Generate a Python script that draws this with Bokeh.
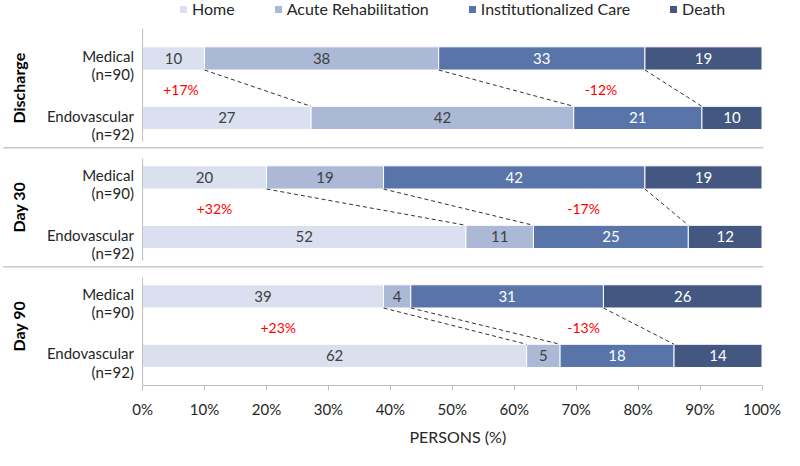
import math
from bokeh.plotting import figure
from bokeh.models import (ColumnDataSource, Legend, LegendItem, FixedTicker,
                          PrintfTickFormatter, Title, Range1d)
from bokeh.core.properties import value
from bokeh.embed import file_html
from bokeh.resources import INLINE

# ---------------- data ----------------
groups = ["Discharge", "Day 30", "Day 90"]
arms = ["Medical", "Endovascular"]
arm_n = ["(n=90)", "(n=92)"]
outcomes = ["Home", "Acute Rehabilitation", "Institutionalized Care", "Death"]

# rows: Discharge Med, Discharge Endo, Day30 Med, Day30 Endo, Day90 Med, Day90 Endo
home = [10.0, 27.2, 20.0, 52.2, 38.9, 62.0]
acute = [37.8, 42.4, 18.9, 10.9, 4.4, 5.4]
inst = [33.3, 20.7, 42.2, 25.0, 31.1, 18.4]
death = [18.9, 9.7, 18.9, 11.9, 25.6, 14.2]

home_lbl = [10, 27, 20, 52, 39, 62]
acute_lbl = [38, 42, 19, 11, 4, 5]
inst_lbl = [33, 21, 42, 25, 31, 18]
death_lbl = [19, 10, 19, 12, 26, 14]

home_change = ["+17%", "+32%", "+23%"]
inst_change = ["-12%", "-17%", "-13%"]

x_ticks = [0, 10, 20, 30, 40, 50, 60, 70, 80, 90, 100]
x_title = "PERSONS (%)"

# ---------------- layout / style ----------------
colors = ["#dae0ef", "#abb8d6", "#5874a9", "#435780"]
label_colors = ["#404040", "#404040", "#ffffff", "#ffffff"]
FONT = "Lato"
BAR_H = 0.39
ANNOT_X_HOME = [6.2, 11.6, 21.9]
ANNOT_X_INST = [74.0, 71.2, 71.2]
CAT_X = -1.4
GROUP_X = -20.1

W, H = 784, 450
p = figure(width=W, height=H, output_backend="svg", toolbar_location=None,
           x_range=Range1d(-22.94, 103.63), y_range=Range1d(5.498, -0.974),
           y_axis_location=None, min_border_left=0, min_border_right=0,
           min_border_top=0, min_border_bottom=65)
p.grid.visible = False
p.outline_line_color = None
p.background_fill_color = "white"

rows = list(range(len(home)))
series = [home, acute, inst, death]
labels = [home_lbl, acute_lbl, inst_lbl, death_lbl]

left = [0.0] * len(rows)
renderers = []
cums = []
for k, (vals, lbls) in enumerate(zip(series, labels)):
    right = [l + v for l, v in zip(left, vals)]
    src = ColumnDataSource(dict(y=rows, left=left, right=right,
                                mid=[(l + r) / 2 for l, r in zip(left, right)],
                                txt=[str(t) for t in lbls]))
    r = p.hbar(y="y", left="left", right="right", height=BAR_H, source=src,
               fill_color=colors[k], line_color="white", line_width=1)
    renderers.append(r)
    p.text(x="mid", y="y", text="txt", source=src, text_align="center",
           text_baseline="middle", text_font=value(FONT),
           text_font_size="15px", text_color=label_colors[k])
    cums.append(right)
    left = right

# dashed connectors between Medical and Endovascular boundaries
xs0, ys0, xs1, ys1 = [], [], [], []
for g in range(len(groups)):
    m, e = 2 * g, 2 * g + 1
    for k in range(3):
        xs0.append(cums[k][m]); ys0.append(m + BAR_H / 2)
        xs1.append(cums[k][e]); ys1.append(e - BAR_H / 2)
p.segment(x0=xs0, y0=ys0, x1=xs1, y1=ys1, line_color="#333333",
          line_width=1, line_dash="4 3")

# panel separators
p.segment(x0=[-22.5, -22.5], y0=[1.5, 3.5], x1=[100.2, 100.2], y1=[1.5, 3.5],
          line_color="#c8c8c8", line_width=1.5)
# broken left axis line per panel
vy0 = [2 * g - 0.5 + (0.0 if g == 0 else 0.18) for g in range(len(groups))]
vy1 = [2 * g + 1.5 - (0.0 if g == len(groups) - 1 else 0.1) for g in range(len(groups))]
p.segment(x0=[0] * 3, y0=vy0, x1=[0] * 3, y1=vy1, line_color="#bfbfbf", line_width=1)

# category labels
p.text(x=[CAT_X] * len(rows), y=[r - 0.04 for r in rows],
       text=[arms[r % 2] for r in rows], text_align="right", text_baseline="middle",
       text_font=value(FONT), text_font_size="15px", text_color="#262626")
p.text(x=[CAT_X] * len(rows), y=[r + 0.265 for r in rows],
       text=[arm_n[r % 2] for r in rows], text_align="right", text_baseline="middle",
       text_font=value(FONT), text_font_size="15px", text_color="#262626")

# group labels
p.text(x=[GROUP_X] * 3, y=[2 * g + 0.5 for g in range(3)], text=groups,
       angle=math.pi / 2, text_align="center", text_baseline="middle",
       text_font=value(FONT), text_font_size="16px", text_font_style="bold",
       text_color="#000000")

# change annotations
p.text(x=ANNOT_X_HOME, y=[2 * g + 0.52 for g in range(3)], text=home_change,
       text_align="center", text_baseline="middle", text_font=value(FONT),
       text_font_size="14px", text_color="#ff0000")
p.text(x=ANNOT_X_INST, y=[2 * g + 0.52 for g in range(3)], text=inst_change,
       text_align="center", text_baseline="middle", text_font=value(FONT),
       text_font_size="14px", text_color="#ff0000")

# x axis
ax = p.xaxis[0]
ax.ticker = FixedTicker(ticks=x_ticks)
ax.formatter = PrintfTickFormatter(format="%d%%")
ax.bounds = (0, 100)
ax.axis_line_color = "#bfbfbf"
ax.major_tick_line_color = "#bfbfbf"
ax.minor_tick_line_color = None
ax.major_tick_out = 5
ax.major_tick_in = 0
ax.major_label_standoff = 9
ax.major_label_text_font = FONT
ax.major_label_text_font_size = "15px"
ax.major_label_text_color = "#262626"

p.add_layout(Title(text=x_title, align="left", offset=409, text_font=FONT,
                   text_font_size="16px", text_font_style="normal",
                   text_color="#262626", standoff=8), "below")

legend = Legend(items=[LegendItem(label=o, renderers=[r]) for o, r in zip(outcomes, renderers)],
                orientation="horizontal", location=(178, 367),
                glyph_width=10, glyph_height=10, label_standoff=4, spacing=38,
                padding=0, margin=0, label_height=17,
                label_text_font=FONT, label_text_font_size="16px",
                label_text_color="#262626",
                background_fill_alpha=0, border_line_alpha=0)
p.add_layout(legend, "center")

open("out.html", "w").write(file_html(p, INLINE))
